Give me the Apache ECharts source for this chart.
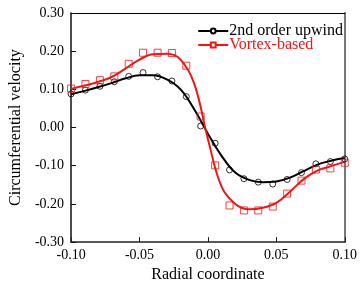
<!DOCTYPE html>
<html>
<head>
<meta charset="utf-8">
<script src="https://cdn.jsdelivr.net/npm/echarts@6/dist/echarts.min.js"></script>
<style>
  html, body { margin: 0; padding: 0; background: #fff; }
  #chart { width: 360px; height: 288px; }
</style>
</head>
<body>
<div id="chart"></div>
<script>
/* =========================================
   DATA
   ========================================= */
// marker positions along the radius
const markerX = [-0.1, -0.0895, -0.0789, -0.0684, -0.0579, -0.0474, -0.0368, -0.0263, -0.0158, -0.0053,
  0.0053, 0.0158, 0.0263, 0.0368, 0.0474, 0.0579, 0.0684, 0.0789, 0.0895, 0.1];
const upwindMarks = [0.088, 0.098, 0.108, 0.120, 0.134, 0.144, 0.133, 0.122, 0.081, 0.004,
  -0.041, -0.111, -0.134, -0.143, -0.148, -0.136, -0.118, -0.095, -0.089, -0.082];
const vortexMarks = [0.102, 0.114, 0.124, 0.134, 0.167, 0.196, 0.196, 0.195, 0.162, 0.029,
  -0.099, -0.204, -0.217, -0.217, -0.207, -0.173, -0.139, -0.110, -0.107, -0.092];

// fitted curves
const curveX = [-0.1, -0.09, -0.08, -0.07, -0.06, -0.05, -0.04, -0.03, -0.02, -0.01, 0,
  0.01, 0.02, 0.03, 0.04, 0.05, 0.06, 0.07, 0.08, 0.09, 0.1];
const upwindCurve = [0.087, 0.096, 0.106, 0.117, 0.129, 0.137, 0.137, 0.126, 0.100, 0.048, -0.016,
  -0.074, -0.118, -0.137, -0.143, -0.141, -0.131, -0.114, -0.097, -0.087, -0.080];
const vortexCurve = [0.101, 0.110, 0.120, 0.133, 0.155, 0.178, 0.192, 0.193, 0.178, 0.115, -0.030,
  -0.155, -0.200, -0.214, -0.210, -0.197, -0.168, -0.135, -0.113, -0.101, -0.090];

const seriesNames = ["2nd order upwind", "Vortex-based"];
const xTicks = { min: -0.1, max: 0.1, interval: 0.05 };
const yTicks = { min: -0.3, max: 0.3, interval: 0.1 };

function pairs(xs, ys) {
  return xs.map((x, i) => [x, ys[i]]);
}

/* =========================================
   CHART
   ========================================= */
function initChart() {
  const chart = echarts.init(document.getElementById("chart"), null, { renderer: "canvas" });
  const font = "Liberation Serif";
  const black = "#000000";
  const red = "#f21515";

  const frameAxis = {
    show: true,
    axisTick: { show: false },
    axisLabel: { show: false },
    splitLine: { show: false },
  };

  const option = {
    backgroundColor: "#fff",
    animation: false,
    grid: { left: 62, right: 12, top: 13, bottom: 36 },
    legend: {
      right: 12,
      top: 18,
      orient: "vertical",
      itemWidth: 30,
      itemHeight: 6,
      itemGap: -2,
      align: "left",
      textStyle: { fontFamily: font, fontSize: 16, color: black, padding: [0, 0, 0, -4] },
      data: [
        { name: seriesNames[0], textStyle: { color: black } },
        { name: seriesNames[1], textStyle: { color: red } },
      ],
    },
    xAxis: [
      {
        type: "value",
        min: xTicks.min,
        max: xTicks.max,
        interval: xTicks.interval,
        name: "Radial coordinate",
        nameLocation: "middle",
        nameGap: 21,
        nameTextStyle: { fontFamily: font, fontSize: 16, color: black },
        axisLine: { onZero: false, lineStyle: { color: "#222", width: 1.5 } },
        axisTick: { inside: true, length: 5, lineStyle: { color: "#222" } },
        axisLabel: {
          margin: 6,
          fontFamily: font,
          fontSize: 14,
          color: black,
          formatter: (v) => v.toFixed(2),
        },
        splitLine: { show: false },
      },
      Object.assign({ type: "value", position: "top", min: xTicks.min, max: xTicks.max }, frameAxis, {
        axisLine: { show: true, onZero: false, lineStyle: { color: black, width: 1.2 } },
      }),
    ],
    yAxis: [
      {
        type: "value",
        min: yTicks.min,
        max: yTicks.max,
        interval: yTicks.interval,
        name: "Circumferential velocity",
        nameLocation: "middle",
        nameGap: 44,
        nameTextStyle: { fontFamily: font, fontSize: 16, color: black },
        axisLine: { show: true, onZero: false, lineStyle: { color: "#111", width: 1.5 } },
        axisTick: { inside: true, length: 5, lineStyle: { color: "#111" } },
        axisLabel: {
          margin: 7,
          fontFamily: font,
          fontSize: 14,
          color: black,
          formatter: (v) => v.toFixed(2),
        },
        splitLine: { show: false },
      },
      Object.assign({ type: "value", position: "right", min: yTicks.min, max: yTicks.max }, frameAxis, {
        axisLine: { show: true, onZero: false, lineStyle: { color: "#777", width: 2 } },
      }),
    ],
    series: [
      {
        name: seriesNames[0],
        type: "line",
        smooth: 0.4,
        data: pairs(curveX, upwindCurve),
        showSymbol: false,
        symbol: "emptyCircle",
        lineStyle: { color: black, width: 2 },
        itemStyle: { color: black },
        z: 3,
      },
      {
        name: seriesNames[1],
        type: "line",
        smooth: 0.4,
        data: pairs(curveX, vortexCurve),
        showSymbol: false,
        symbol: "emptyRect",
        lineStyle: { color: red, width: 2 },
        itemStyle: { color: red },
        z: 3,
      },
      {
        name: seriesNames[0] + " markers",
        type: "scatter",
        data: pairs(markerX, upwindMarks),
        symbol: "circle",
        symbolSize: 6,
        itemStyle: { color: "rgba(255,255,255,0)", borderColor: black, borderWidth: 1 },
        z: 4,
      },
      {
        name: seriesNames[1] + " markers",
        type: "scatter",
        data: pairs(markerX, vortexMarks),
        symbol: "rect",
        symbolSize: 7,
        itemStyle: { color: "rgba(255,255,255,0)", borderColor: red, borderWidth: 1 },
        z: 4,
      },
    ],
  };

  chart.setOption(option);
}

document.addEventListener("DOMContentLoaded", () => {
  initChart();
});
</script>
</body>
</html>
